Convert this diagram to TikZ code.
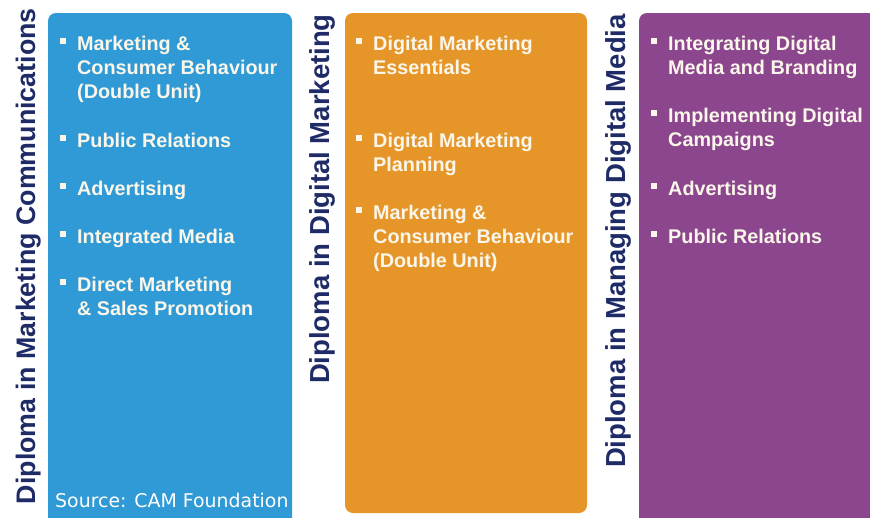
\documentclass[tikz,border=0pt]{standalone}
\usepackage{fontspec}
\setmainfont{Liberation Sans}
\newfontfamily\srcfont{DejaVu Sans}
\usepackage{tikz}
\usetikzlibrary{positioning}
\definecolor{mcblue}{HTML}{2F9AD5}
\definecolor{dmorange}{HTML}{E69628}
\definecolor{mdmpurple}{HTML}{8B468D}
\definecolor{navy}{HTML}{1F2B66}
\definecolor{cream}{HTML}{FAF6EA}
\newcommand{\sq}{\llap{\rule[6.5pt]{6pt}{6pt}\hspace{11pt}}}

\begin{document}
\begin{tikzpicture}[x=1pt, y=-1pt,
      title/.style={rotate=90, anchor=base east, text=navy, inner sep=0pt,
                    font=\fontsize{27.5}{30}\selectfont\bfseries},
      item/.style={anchor=base west, align=left, text=cream, inner sep=0pt,
                   font=\fontsize{19.8}{24.3}\selectfont\bfseries}]
      \useasboundingbox (0, 0) rectangle (870, 517);
      \clip (0, 0) rectangle (870, 517);
      \fill [mcblue, rounded corners=8pt] (48, 13) rectangle (292, 540);
      \fill [dmorange, rounded corners=8pt] (345, 13) rectangle (587, 513);
      \fill [mdmpurple, rounded corners=8pt] (639, 13) rectangle (900, 540);
      \node (mc) [title, font=\fontsize{26.8}{30}\selectfont\bfseries] at (35, 8) {Diploma in Marketing Communications};
      \node (dm) [title] at (329, 14) {Diploma in Digital Marketing};
      \node (mdm) [title] at (625, 14) {Diploma in Managing Digital Media};
      \node (mc1) [item] at (77, 98.6) {\sq Marketing \&\\Consumer Behaviour\\(Double Unit)};
      \node (mc2) [item] at (77, 147) {\sq Public Relations};
      \node (mc3) [item] at (77, 195) {\sq Advertising};
      \node (mc4) [item] at (77, 243) {\sq Integrated Media};
      \node (mc5) [item] at (77, 315.3) {\sq Direct Marketing\\\& Sales Promotion};
      \node (dm1) [item] at (373, 74.3) {\sq Digital Marketing\\Essentials};
      \node (dm2) [item] at (373, 171.3) {\sq Digital Marketing\\Planning};
      \node (dm3) [item] at (373, 267.6) {\sq Marketing \&\\Consumer Behaviour\\(Double Unit)};
      \node (mdm1) [item] at (668, 74.3) {\sq Integrating Digital\\Media and Branding};
      \node (mdm2) [item] at (668, 146.3) {\sq Implementing Digital\\Campaigns};
      \node (mdm3) [item] at (668, 195) {\sq Advertising};
      \node (mdm4) [item] at (668, 243) {\sq Public Relations};
      \node (src) [anchor=base west, inner sep=0pt, text=white,
                   font=\srcfont\fontsize{18.9}{22}\selectfont] at (55, 507) {Source: CAM Foundation};
\end{tikzpicture}
\end{document}
